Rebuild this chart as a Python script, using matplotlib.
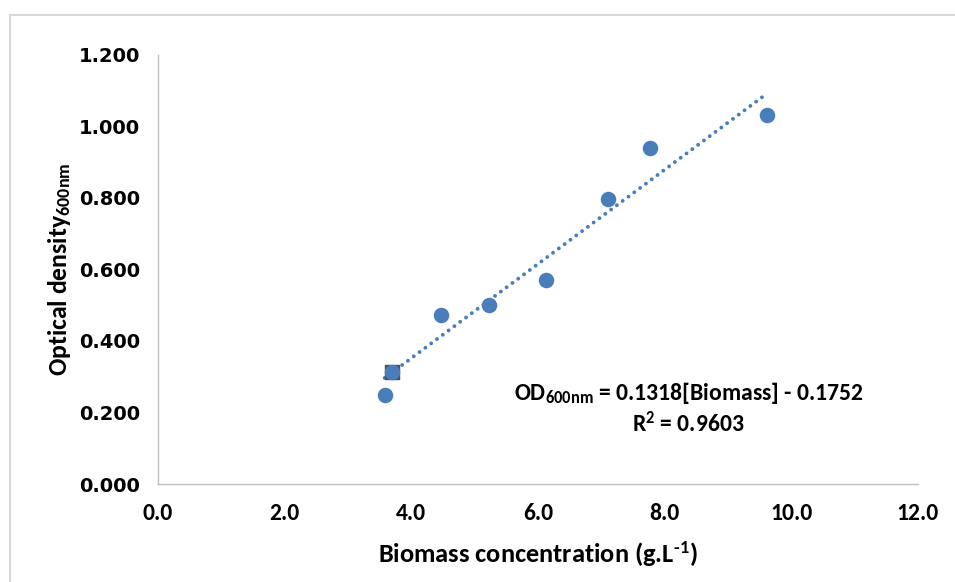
import matplotlib
matplotlib.use("Agg")
import matplotlib.pyplot as plt
from matplotlib import font_manager
from matplotlib.lines import Line2D
import numpy as np

# Biomass calibration data
biomass = [3.58, 3.69, 4.47, 5.23, 6.13, 7.11, 7.77, 9.62]
od600 = [0.249, 0.313, 0.473, 0.500, 0.571, 0.797, 0.940, 1.032]
slope = 0.1318
intercept = -0.1752
r_squared = 0.9603
x_ticks = [0, 2, 4, 6, 8, 10, 12]
y_ticks = [0.0, 0.2, 0.4, 0.6, 0.8, 1.0, 1.2]

available = {f.name for f in font_manager.fontManager.ttflist}
narrow = next((n for n in ["Carlito", "Liberation Sans Narrow", "Open Sans", "Noto Sans"]
               if n in available), "DejaVu Sans")

plt.rcParams["axes.unicode_minus"] = False
plt.rcParams["mathtext.fontset"] = "custom"
plt.rcParams["mathtext.rm"] = f"{narrow}:bold"
plt.rcParams["mathtext.bf"] = f"{narrow}:bold"
plt.rcParams["mathtext.it"] = f"{narrow}:bold"

blue = "#4A7EBB"
grey = "#BFBFBF"

fig = plt.figure(figsize=(9.55, 5.82), dpi=100)
ax = fig.add_axes([158 / 955, 98 / 582, 760 / 955, 429 / 582])

# outer frame (top and left edges)
fig.add_artist(Line2D([10 / 955, 1.0], [1 - 15 / 582, 1 - 15 / 582],
                      transform=fig.transFigure, color="#D9D9D9", lw=1.5))
fig.add_artist(Line2D([10 / 955, 10 / 955], [0, 1 - 15 / 582],
                      transform=fig.transFigure, color="#D9D9D9", lw=1.5))

ax.set_xlim(0, 12)
ax.set_ylim(0, 1.2)
for s in ["top", "right"]:
    ax.spines[s].set_visible(False)
for s in ["left", "bottom"]:
    ax.spines[s].set_color(grey)
    ax.spines[s].set_linewidth(1.0)
ax.tick_params(length=0)
ax.set_xticks(x_ticks)
ax.set_yticks(y_ticks)
ax.set_xticklabels([f"{v:.1f}" for v in x_ticks], family=narrow,
                   fontweight="bold", fontsize=17)
ax.set_yticklabels([f"{v:.3f}" for v in y_ticks], family="DejaVu Sans",
                   fontweight="bold", fontsize=14)
ax.tick_params(axis="x", pad=14)
ax.tick_params(axis="y", pad=13)

# linear trendline over the data range
xt = np.array([min(biomass), max(biomass)])
ax.plot(xt, slope * xt + intercept, color=blue, lw=2.8,
        linestyle=(0, (0.01, 1.85)), dash_capstyle="round", zorder=2)

# small marker behind the second point
ax.scatter([biomass[1]], [od600[1]], marker="s", s=95, color="#505050", zorder=2.5)
ax.scatter(biomass, od600, s=125, color=blue, zorder=3, linewidths=0)

ax.set_xlabel(r"Biomass concentration (g.L$^{\text{-1}}$)", family=narrow,
              fontweight="bold", fontsize=19, labelpad=11)
ax.set_ylabel(r"Optical density$_{\mathregular{600nm}}$", family=narrow,
              fontweight="bold", fontsize=18.5, labelpad=4)

ax.text(8.38, 0.255, r"OD$_{\mathregular{600nm}}$ = " + f"{slope:.4f}[Biomass] - {abs(intercept):.4f}",
        family=narrow, fontweight="bold", fontsize=17, ha="center", va="center")
ax.text(8.38, 0.17, r"R$^{\mathregular{2}}$ = " + f"{r_squared:.4f}",
        family=narrow, fontweight="bold", fontsize=17, ha="center", va="center")

fig.savefig("out.png", dpi=100)
